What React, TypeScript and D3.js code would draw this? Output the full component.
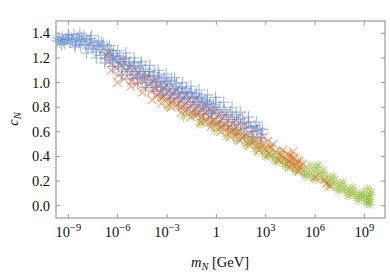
import React, { useEffect, useRef } from 'react';
import * as d3 from 'd3';

// log10(m_N / GeV), c_N
const xTickExps = [-9, -6, -3, 0, 3, 6, 9];
const yTicks = [0.0, 0.2, 0.4, 0.6, 0.8, 1.0, 1.2, 1.4];

const bluePts: [number, number][] = [
  [-9.68, 1.34], [-9.6, 1.36], [-9.52, 1.33], [-9.45, 1.35], [-9.38, 1.37], [-9.3, 1.34], [-9.22, 1.32],
  [-9.15, 1.36], [-9.05, 1.35], [-8.98, 1.38], [-8.9, 1.33], [-8.82, 1.36], [-8.75, 1.34], [-8.66, 1.39],
  [-8.58, 1.31], [-8.5, 1.35], [-8.42, 1.37], [-8.35, 1.33], [-8.27, 1.3], [-8.2, 1.36], [-8.12, 1.34],
  [-8.05, 1.38], [-7.96, 1.31], [-7.88, 1.35], [-7.8, 1.28], [-7.72, 1.33], [-7.65, 1.36], [-7.56, 1.3],
  [-7.48, 1.27], [-7.4, 1.32], [-7.33, 1.25], [-7.25, 1.3], [-7.18, 1.34], [-7.1, 1.27], [-7.02, 1.22],
  [-6.95, 1.29], [-6.86, 1.31], [-6.78, 1.24], [-6.7, 1.2], [-6.62, 1.27], [-6.55, 1.23], [-6.47, 1.18],
  [-6.4, 1.26], [-6.32, 1.21], [-6.25, 1.24], [-6.17, 1.16], [-6.1, 1.22], [-6.02, 1.19], [-5.95, 1.13],
  [-5.88, 1.21], [-5.8, 1.17], [-5.72, 1.11], [-5.65, 1.19], [-5.57, 1.15], [-5.5, 1.2], [-5.42, 1.09],
  [-5.35, 1.14], [-5.27, 1.17], [-5.2, 1.11], [-5.12, 1.06], [-5.05, 1.13], [-4.97, 1.16], [-4.9, 1.09],
  [-4.82, 1.04], [-4.75, 1.12], [-4.67, 1.07], [-4.6, 1.14], [-4.52, 1.03], [-4.45, 1.09], [-4.37, 1.05],
  [-4.3, 1.11], [-4.22, 1.0], [-4.15, 1.06], [-4.07, 1.09], [-4.0, 1.02], [-3.92, 0.98], [-3.85, 1.05],
  [-3.77, 1.08], [-3.7, 1.0], [-3.62, 0.96], [-3.55, 1.03], [-3.47, 1.06], [-3.4, 0.97], [-3.32, 1.01],
  [-3.25, 0.94], [-3.17, 1.04], [-3.1, 0.99], [-3.02, 0.95], [-2.95, 1.01], [-2.87, 0.92], [-2.8, 0.98],
  [-2.72, 1.02], [-2.65, 0.94], [-2.57, 0.9], [-2.5, 0.97], [-2.42, 0.99], [-2.35, 0.91], [-2.27, 0.95],
  [-2.2, 0.88], [-2.12, 0.96], [-2.05, 0.92], [-1.97, 0.86], [-1.9, 0.93], [-1.82, 0.95], [-1.75, 0.87],
  [-1.67, 0.91], [-1.6, 0.84], [-1.52, 0.92], [-1.45, 0.88], [-1.37, 0.82], [-1.3, 0.89], [-1.22, 0.91],
  [-1.15, 0.84], [-1.07, 0.87], [-1.0, 0.81], [-0.92, 0.88], [-0.85, 0.84], [-0.77, 0.79], [-0.7, 0.86],
  [-0.62, 0.82], [-0.55, 0.85], [-0.47, 0.77], [-0.4, 0.83], [-0.32, 0.8], [-0.25, 0.75], [-0.17, 0.82],
  [-0.1, 0.78], [-0.02, 0.84], [0.1, 0.76], [0.22, 0.8], [0.35, 0.73], [0.47, 0.78], [0.6, 0.74],
  [0.72, 0.7], [0.85, 0.76], [0.97, 0.72], [1.1, 0.68], [1.22, 0.74], [1.35, 0.7], [1.47, 0.66],
  [1.6, 0.71], [1.72, 0.67], [1.85, 0.63], [1.97, 0.68], [2.1, 0.64], [2.22, 0.6], [2.35, 0.65],
  [2.47, 0.61], [2.6, 0.63], [2.72, 0.58],
  [-9.4, 1.31], [-9.0, 1.39], [-8.6, 1.29], [-8.3, 1.4], [-7.9, 1.24], [-7.6, 1.38], [-7.3, 1.2],
  [-7.0, 1.33], [-6.8, 1.16], [-6.5, 1.3], [-6.3, 1.13], [-6.0, 1.26], [-5.75, 1.06], [-5.5, 1.24],
  [-5.25, 1.03], [-5.0, 1.2], [-4.8, 0.99], [-4.55, 1.17], [-4.3, 0.96], [-4.05, 1.14], [-3.8, 0.93],
  [-3.55, 1.1], [-3.3, 0.9], [-3.05, 1.07], [-2.8, 0.87], [-2.55, 1.04], [-2.3, 0.84], [-2.05, 1.0],
  [-1.8, 0.8], [-1.55, 0.97], [-1.3, 0.77], [-1.05, 0.94], [-0.8, 0.74], [-0.55, 0.9], [-0.3, 0.71],
  [-0.05, 0.88], [0.2, 0.68], [0.45, 0.84], [0.7, 0.65], [0.95, 0.8], [1.2, 0.62], [1.45, 0.76],
  [1.7, 0.58], [1.95, 0.72], [2.2, 0.56], [2.45, 0.68], [2.7, 0.55], [2.8, 0.62],
];

const orangePts: [number, number][] = [
  [-6.7, 1.22], [-6.55, 1.17], [-6.4, 1.1], [-6.25, 1.19], [-6.1, 1.12], [-5.95, 1.06], [-5.8, 1.14],
  [-5.6, 1.03], [-5.45, 1.09], [-5.3, 1.12], [-5.15, 1.01], [-5.0, 1.05], [-4.85, 0.99], [-4.7, 1.07],
  [-4.55, 1.02], [-4.4, 0.96], [-4.25, 1.04], [-4.1, 0.98], [-3.95, 0.93], [-3.85, 1.01], [-3.7, 0.95],
  [-3.6, 0.9], [-3.5, 0.97], [-3.4, 0.92], [-3.3, 0.88], [-3.2, 0.95], [-3.1, 0.9], [-3.0, 0.86],
  [-2.9, 0.93], [-2.8, 0.88], [-2.7, 0.84], [-2.6, 0.91], [-2.5, 0.86], [-2.4, 0.82], [-2.3, 0.89],
  [-2.2, 0.84], [-2.1, 0.8], [-2.0, 0.87], [-1.9, 0.82], [-1.8, 0.78], [-1.7, 0.85], [-1.6, 0.8],
  [-1.5, 0.76], [-1.4, 0.83], [-1.3, 0.78], [-1.2, 0.74], [-1.1, 0.81], [-1.0, 0.76], [-0.9, 0.72],
  [-0.8, 0.79], [-0.7, 0.75], [-0.6, 0.7], [-0.5, 0.77], [-0.4, 0.72], [-0.3, 0.68], [-0.2, 0.75],
  [-0.1, 0.7], [0.0, 0.66], [0.1, 0.73], [0.2, 0.68], [0.3, 0.64], [0.4, 0.71], [0.5, 0.66],
  [0.6, 0.62], [0.7, 0.69], [0.8, 0.64], [0.9, 0.6], [1.0, 0.67], [1.1, 0.62], [1.2, 0.58],
  [1.3, 0.65], [1.45, 0.6], [1.6, 0.55], [1.75, 0.62], [1.9, 0.57], [2.05, 0.52], [2.2, 0.58],
  [2.35, 0.53], [2.5, 0.49], [2.65, 0.55], [2.8, 0.5], [2.95, 0.46], [3.1, 0.52], [3.3, 0.47],
  [3.6, 0.44], [3.95, 0.41], [4.15, 0.38], [4.3, 0.42], [4.4, 0.36], [4.5, 0.4], [4.6, 0.34],
  [4.66, 0.44], [4.75, 0.38], [4.85, 0.33], [4.95, 0.36], [5.1, 0.31], [5.25, 0.34], [6.55, 0.21],
  [6.9, 0.16],
  [-6.5, 1.24], [-6.0, 1.0], [-5.7, 1.18], [-5.2, 0.97], [-4.9, 1.1], [-4.5, 0.92], [-4.2, 1.06],
  [-3.9, 0.86], [-3.65, 1.02], [-3.35, 0.83], [-3.05, 0.98], [-2.75, 0.8], [-2.45, 0.94], [-2.15, 0.76],
  [-1.85, 0.9], [-1.55, 0.72], [-1.25, 0.87], [-0.95, 0.68], [-0.65, 0.82], [-0.35, 0.64], [-0.05, 0.78],
  [0.25, 0.6], [0.55, 0.74], [0.85, 0.56], [1.15, 0.7], [1.4, 0.53], [1.7, 0.66], [2.0, 0.49],
  [2.3, 0.62], [2.6, 0.45], [2.9, 0.56], [3.2, 0.42], [3.45, 0.5], [3.8, 0.37], [4.05, 0.45],
  [4.45, 0.31], [4.7, 0.39], [5.0, 0.28], [6.0, 0.23], [6.7, 0.18],
];

const greenPts: [number, number][] = [
  [-3.4, 0.88], [-2.8, 0.84], [-2.3, 0.8], [-1.9, 0.76], [-1.5, 0.73], [-1.2, 0.75], [-0.9, 0.7],
  [-0.6, 0.68], [-0.3, 0.66], [0.0, 0.67], [0.2, 0.63], [0.45, 0.65], [0.7, 0.6], [0.9, 0.62],
  [1.1, 0.58], [1.3, 0.6], [1.5, 0.55], [1.7, 0.57], [1.9, 0.52], [2.05, 0.55], [2.2, 0.5],
  [2.35, 0.53], [2.5, 0.47], [2.65, 0.5], [2.8, 0.44], [2.95, 0.47], [3.1, 0.41], [3.25, 0.44],
  [3.4, 0.39], [3.55, 0.42], [3.7, 0.37], [3.85, 0.4], [4.0, 0.35], [4.15, 0.38], [4.3, 0.33],
  [4.45, 0.36], [4.6, 0.31], [4.75, 0.34], [4.9, 0.29], [5.05, 0.32], [5.2, 0.27], [5.35, 0.3],
  [5.5, 0.25], [5.65, 0.28], [5.8, 0.23], [5.95, 0.28], [6.05, 0.31], [6.15, 0.24], [6.3, 0.27],
  [6.45, 0.21], [6.6, 0.25], [6.75, 0.19], [6.9, 0.22], [7.05, 0.17], [7.2, 0.2], [7.35, 0.15],
  [7.5, 0.18], [7.65, 0.13], [7.8, 0.15], [7.95, 0.11], [8.1, 0.13], [8.25, 0.09], [8.4, 0.11],
  [8.55, 0.07], [8.7, 0.09], [8.85, 0.06], [9.0, 0.08], [9.15, 0.04], [9.25, 0.07], [9.35, 0.03],
  [9.2, 0.14], [9.3, 0.01], [9.35, 0.09],
  [-3.0, 0.8], [-2.0, 0.72], [-1.0, 0.66], [-0.1, 0.61], [0.6, 0.56], [1.2, 0.53], [1.8, 0.49],
  [2.4, 0.44], [3.0, 0.4], [3.3, 0.48], [3.6, 0.36], [3.9, 0.44], [4.2, 0.32], [4.5, 0.41],
  [4.8, 0.28], [5.1, 0.37], [5.4, 0.24], [5.7, 0.33], [6.0, 0.21], [6.2, 0.33], [6.5, 0.29],
  [6.8, 0.16], [7.1, 0.24], [7.4, 0.12], [7.7, 0.19], [8.0, 0.08], [8.3, 0.15], [8.6, 0.04],
  [8.9, 0.11], [9.1, 0.02], [9.3, 0.05], [9.4, 0.11],
];

const plusPath = (s: number) => `M${-s},0H${s}M0,${-s}V${s}`;
const crossPath = (s: number) => `M${-s},${-s}L${s},${s}M${-s},${s}L${s},${-s}`;
const starPath = (s: number) => plusPath(s) + crossPath(s * 0.72);

const App = () => {
  const ref = useRef<SVGSVGElement>(null);

  useEffect(() => {
    document.body.style.margin = '0';
    const svg = d3.select(ref.current);
    svg.selectAll('*').remove();

    const x = d3.scaleLog().domain([10 ** -9.75, 10 ** 10.25]).range([56, 385]);
    const y = d3.scaleLinear().domain([-0.1, 1.5]).range([218, 21]);
    const font = '"Liberation Serif", serif';
    const frame = '#999';

    const series = [
      { pts: greenPts, color: '#8fba36', d: starPath(4.6) },
      { pts: orangePts, color: '#f05a24', d: crossPath(4.3) },
      { pts: bluePts, color: '#5a7ec6', d: plusPath(6) },
    ];

    series.forEach(s => {
      svg.append('g')
        .selectAll('path')
        .data(s.pts)
        .join('path')
        .attr('transform', d => `translate(${x(10 ** d[0])},${y(d[1])})`)
        .attr('d', s.d)
        .attr('fill', 'none')
        .attr('stroke', s.color)
        .attr('stroke-width', 1.1)
        .attr('stroke-opacity', 0.55);
    });

    // frame
    svg.append('rect')
      .attr('x', 56).attr('y', 21)
      .attr('width', 329).attr('height', 197)
      .attr('fill', 'none')
      .attr('stroke', frame)
      .attr('stroke-width', 1.2);

    const tl = 4;
    xTickExps.forEach(e => {
      const px = x(10 ** e);
      svg.append('line').attr('x1', px).attr('x2', px).attr('y1', 218).attr('y2', 218 - tl)
        .attr('stroke', frame);
      svg.append('line').attr('x1', px).attr('x2', px).attr('y1', 21).attr('y2', 21 + tl)
        .attr('stroke', frame);
      const t = svg.append('text')
        .attr('x', px).attr('y', 237)
        .attr('text-anchor', 'middle')
        .attr('font-family', font)
        .attr('font-size', 14.5)
        .attr('fill', '#111');
      if (e === 0) {
        t.text('1');
      } else {
        t.append('tspan').text('10');
        t.append('tspan').attr('dy', -6).attr('font-size', 10.5)
          .text(e < 0 ? `\u2212${-e}` : `${e}`);
      }
    });

    yTicks.forEach(v => {
      const py = y(v);
      svg.append('line').attr('x1', 56).attr('x2', 56 + tl).attr('y1', py).attr('y2', py)
        .attr('stroke', frame);
      svg.append('line').attr('x1', 385).attr('x2', 385 - tl).attr('y1', py).attr('y2', py)
        .attr('stroke', frame);
      svg.append('text')
        .attr('x', 50).attr('y', py + 5)
        .attr('text-anchor', 'end')
        .attr('font-family', font)
        .attr('font-size', 14.5)
        .attr('fill', '#111')
        .text(v.toFixed(1));
    });

    // axis labels
    const xl = svg.append('text')
      .attr('x', 220).attr('y', 267)
      .attr('text-anchor', 'middle')
      .attr('font-family', font)
      .attr('font-size', 14.5)
      .attr('fill', '#111');
    xl.append('tspan').attr('font-style', 'italic').text('m');
    xl.append('tspan').attr('font-style', 'italic').attr('font-size', 10.5).attr('dy', 3).text('N');
    xl.append('tspan').attr('dy', -3).text(' [GeV]');

    const yl = svg.append('text')
      .attr('transform', 'translate(18,119) rotate(-90)')
      .attr('text-anchor', 'middle')
      .attr('font-family', font)
      .attr('font-size', 14.5)
      .attr('fill', '#111');
    yl.append('tspan').attr('font-style', 'italic').text('c');
    yl.append('tspan').attr('font-style', 'italic').attr('font-size', 10.5).attr('dy', 3).text('N');
  }, []);

  return <svg ref={ref} width={390} height={275} style={{ display: 'block' }} />;
};

export default App;
